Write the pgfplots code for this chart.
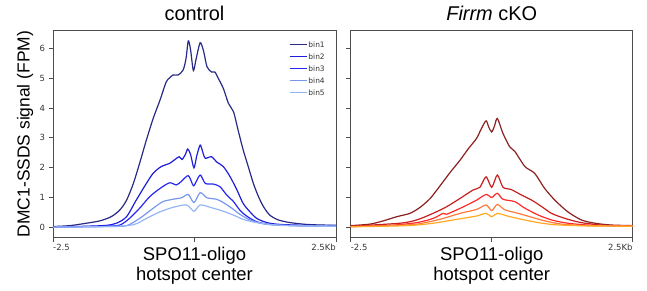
\documentclass[border=0pt]{standalone}
\usepackage{pgfplots}
\pgfplotsset{compat=1.18}
\usepackage{fontspec}
\setmainfont{Liberation Sans}
\newfontfamily\dejavu{DejaVu Sans}
\definecolor{cA}{HTML}{282A86}
\definecolor{cB}{HTML}{1E1ED8}
\definecolor{cC}{HTML}{2828F5}
\definecolor{cD}{HTML}{7898EE}
\definecolor{cE}{HTML}{96B4F8}
\definecolor{rA}{HTML}{8B2020}
\definecolor{rB}{HTML}{C81E1E}
\definecolor{rC}{HTML}{FF2A2A}
\definecolor{rD}{HTML}{FF7A3A}
\definecolor{rE}{HTML}{FFAA22}
\pgfplotsset{
  panel/.style={
    scale only axis, width=282bp, height=206.3bp,
    xmin=-2.5, xmax=2.5, ymin=-0.31, ymax=6.58,
    xtick={-2.5,0,2.5}, xticklabels={,,},
    ytick={0,1,2,3,4,5,6},
    tick align=outside, tick pos=left,
    major tick length=4.5bp,
    axis line style={black!70, line width=0.8bp},
    every tick/.style={black!70, line width=0.8bp},
    yticklabel style={font=\dejavu\fontsize{8.5}{10}\selectfont, text=black!80},
    /pgf/number format/assume math mode=true,
    every axis plot/.append style={line width=1.2bp, no markers, smooth, tension=0.45},
    clip=true,
  }
}
\begin{document}
\begin{tikzpicture}[x=1bp,y=1bp]
\path[use as bounding box] (0,0) rectangle (647,290);
% left panel
\begin{axis}[panel, at={(53bp,53bp)}, anchor=south west, width=283bp,
  legend style={draw=none, fill=none, at={(axis description cs:0.975,0.965)}, anchor=north east,
     font=\dejavu\fontsize{7.5}{8}\selectfont, text=black!80,
     nodes={inner sep=1bp, text height=6bp, text depth=1bp}, row sep=3bp},
  legend cell align=left,
  legend image code/.code={\draw[#1, sharp plot] (0bp,0bp) -- (17bp,0bp);},
]
\addplot[cA] coordinates {(-2.5,0.04) (-2.2,0.07) (-1.91,0.15) (-1.67,0.23) (-1.47,0.37) (-1.32,0.59) (-1.2,0.92) (-1.08,1.48) (-0.97,2.15) (-0.85,2.93) (-0.73,3.65) (-0.61,4.26) (-0.5,4.87) (-0.44,5.0) (-0.38,5.1) (-0.29,5.1) (-0.2,5.27) (-0.15,5.65) (-0.11,6.24) (-0.07,5.95) (-0.02,5.25) (0.03,5.65) (0.1,6.18) (0.16,5.9) (0.22,5.38) (0.3,5.2) (0.36,5.2) (0.42,4.99) (0.51,4.65) (0.6,4.15) (0.69,3.87) (0.77,3.26) (0.86,2.6) (0.95,2.04) (1.04,1.48) (1.13,1.04) (1.22,0.7) (1.33,0.42) (1.48,0.26) (1.69,0.17) (1.98,0.11) (2.25,0.09) (2.5,0.08)};
\addlegendentry{bin1}
\addplot[cB] coordinates {(-2.5,0.02) (-1.62,0.07) (-1.38,0.15) (-1.2,0.37) (-1.03,0.92) (-0.85,1.48) (-0.73,1.82) (-0.59,2.04) (-0.44,2.15) (-0.33,2.3) (-0.27,2.37) (-0.22,2.28) (-0.16,2.45) (-0.12,2.63) (-0.07,2.45) (-0.01,2.0) (0.04,2.4) (0.1,2.76) (0.15,2.5) (0.19,2.32) (0.3,2.37) (0.39,2.2) (0.51,2.04) (0.63,1.7) (0.75,1.26) (0.86,0.81) (0.98,0.53) (1.1,0.31) (1.28,0.17) (1.51,0.11) (1.98,0.08) (2.5,0.07)};
\addlegendentry{bin2}
\addplot[cC] coordinates {(-2.5,0.02) (-1.6,0.05) (-1.32,0.09) (-1.15,0.31) (-0.97,0.65) (-0.79,1.04) (-0.61,1.31) (-0.44,1.5) (-0.32,1.43) (-0.23,1.55) (-0.11,1.74) (-0.03,1.43) (0.0,1.43) (0.1,1.76) (0.19,1.48) (0.33,1.46) (0.45,1.37) (0.57,1.09) (0.69,0.87) (0.8,0.59) (0.92,0.39) (1.1,0.2) (1.33,0.11) (1.8,0.07) (2.5,0.06)};
\addlegendentry{bin3}
\addplot[cD] coordinates {(-2.5,0.02) (-1.5,0.04) (-1.2,0.07) (-0.97,0.31) (-0.73,0.65) (-0.56,0.87) (-0.38,0.95) (-0.23,1.0) (-0.11,1.11) (-0.01,0.84) (0.1,1.17) (0.22,1.0) (0.39,0.95) (0.51,0.84) (0.66,0.65) (0.8,0.45) (0.98,0.26) (1.22,0.13) (1.6,0.08) (2.5,0.06)};
\addlegendentry{bin4}
\addplot[cE] coordinates {(-2.5,0.02) (-1.5,0.04) (-1.08,0.1) (-0.85,0.31) (-0.61,0.53) (-0.38,0.68) (-0.14,0.76) (-0.01,0.55) (0.1,0.76) (0.28,0.68) (0.51,0.55) (0.69,0.42) (0.86,0.28) (1.1,0.17) (1.39,0.1) (1.8,0.06) (2.5,0.05)};
\addlegendentry{bin5}
\end{axis}
% right panel
\begin{axis}[panel, at={(350.7bp,53bp)}, anchor=south west, yticklabels={}]
\addplot[rA] coordinates {(-2.5,0.07) (-2.16,0.12) (-1.92,0.23) (-1.68,0.37) (-1.45,0.48) (-1.27,0.68) (-1.09,0.98) (-0.92,1.39) (-0.74,1.84) (-0.56,2.26) (-0.41,2.65) (-0.27,2.98) (-0.18,3.32) (-0.1,3.57) (-0.05,3.35) (0.0,3.2) (0.05,3.4) (0.1,3.65) (0.2,3.15) (0.32,2.7) (0.41,2.55) (0.59,2.04) (0.76,1.82) (0.94,1.31) (1.12,0.92) (1.35,0.53) (1.59,0.26) (1.83,0.15) (2.12,0.09) (2.5,0.07)};
\addplot[rB] coordinates {(-2.5,0.05) (-1.63,0.15) (-1.33,0.26) (-1.04,0.48) (-0.8,0.7) (-0.56,0.98) (-0.33,1.26) (-0.21,1.35) (-0.1,1.7) (0.0,1.35) (0.1,1.76) (0.2,1.35) (0.34,1.28) (0.53,1.09) (0.71,0.92) (0.89,0.7) (1.06,0.48) (1.3,0.31) (1.59,0.17) (2.0,0.08) (2.5,0.06)};
\addplot[rC] coordinates {(-2.5,0.04) (-1.8,0.08) (-1.33,0.17) (-1.04,0.31) (-0.86,0.48) (-0.8,0.45) (-0.5,0.7) (-0.27,0.92) (-0.1,1.11) (0.0,1.01) (0.1,1.15) (0.2,0.95) (0.41,0.87) (0.59,0.65) (0.83,0.42) (1.06,0.26) (1.35,0.15) (1.8,0.08) (2.5,0.06)};
\addplot[rD] coordinates {(-2.5,0.04) (-1.8,0.07) (-1.33,0.12) (-0.92,0.28) (-0.56,0.48) (-0.27,0.61) (-0.1,0.76) (0.0,0.57) (0.1,0.78) (0.23,0.6) (0.47,0.48) (0.71,0.35) (0.94,0.23) (1.24,0.12) (1.7,0.07) (2.5,0.06)};
\addplot[rE] coordinates {(-2.5,0.03) (-1.5,0.07) (-1.04,0.15) (-0.62,0.28) (-0.27,0.39) (-0.1,0.48) (0.0,0.37) (0.1,0.48) (0.28,0.39) (0.53,0.28) (0.83,0.17) (1.12,0.1) (1.7,0.06) (2.5,0.05)};
\end{axis}
% x tick labels
\begin{scope}[every node/.style={font=\dejavu\fontsize{8.5}{10}\selectfont, text=black!80, inner sep=0pt}]
\node[anchor=north west] at (53,46) {-2.5};
\node[anchor=north east] at (336,46) {2.5Kb};
\node[anchor=north west] at (350.7,46) {-2.5};
\node[anchor=north east] at (632.7,46) {2.5Kb};
\end{scope}
% titles
\node[anchor=base, inner sep=0pt, font=\fontsize{20}{24}\selectfont] at (194.5,269.5) {control};
\node[anchor=base, inner sep=0pt, font=\fontsize{20}{24}\selectfont] at (491.7,269.5) {\textit{Firrm} cKO};
% x labels
\foreach \cx in {194.5,491.7}{
\node[anchor=base, inner sep=0pt, font=\fontsize{18.5}{22}\selectfont] at (\cx,30) {SPO11-oligo};
\node[anchor=base, inner sep=0pt, font=\fontsize{18.5}{22}\selectfont] at (\cx,10) {hotspot center};
}
% y label
\node[anchor=base, rotate=90, inner sep=0pt, font=\fontsize{17.5}{20}\selectfont] at (29.5,156) {DMC1-SSDS signal (FPM)};
\end{tikzpicture}
\end{document}
